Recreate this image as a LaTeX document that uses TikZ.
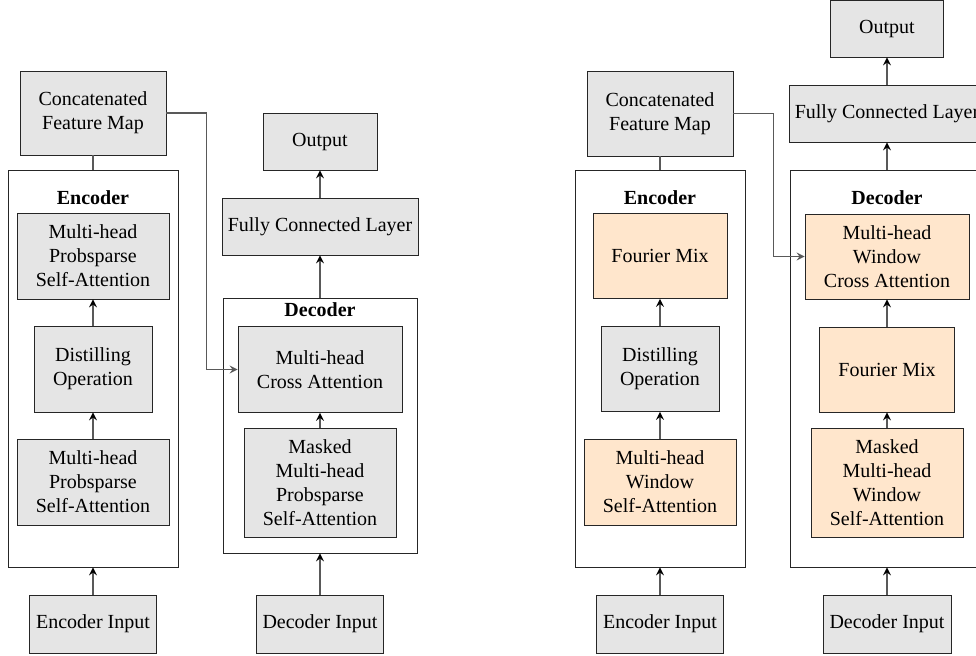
\documentclass[tikz,border=0pt]{standalone}
\usepackage{fontspec}
\setmainfont{Liberation Serif}
\usepackage{tikz}
\usepackage{xcolor}
\definecolor{boxgray}{gray}{0.9}
\definecolor{mixorange}{RGB}{255,230,204}
\definecolor{linegray}{gray}{0.35}
\tikzstyle{block} = [rectangle, draw=black!85, fill=boxgray, align=center, inner sep=0pt, font=\fontsize{10}{12}\selectfont]
\tikzstyle{newblock} = [block, fill=mixorange]
\tikzstyle{frame} = [rectangle, draw=black!85, inner sep=0pt]
\tikzstyle{title} = [font=\fontsize{10}{12}\selectfont\bfseries]
\tikzstyle{line} = [draw=linegray, line width=0.75pt]

\begin{document}
\begin{tikzpicture}[x=0.5pt,y=-0.5pt,->,>=stealth,node distance=56.5pt]
  \useasboundingbox (0,0) rectangle (976,655);
  \clip (0,0) rectangle (976,655);

  % Informer
  \node[frame, minimum width=85pt, minimum height=198.5pt] (Enc) at (93,368.5) {};
  \node[title] (Enc_title) at (93,198) {Encoder};
  \node[block, minimum width=76pt, minimum height=43pt] (Enc_self_b) at (93,482) {Multi-head\\Probsparse\\Self-Attention};
  \node[block, minimum width=59pt, minimum height=43pt] (Enc_distil) [above of=Enc_self_b] {Distilling\\Operation};
  \node[block, minimum width=76pt, minimum height=43pt] (Enc_self_a) [above of=Enc_distil] {Multi-head\\Probsparse\\Self-Attention};
  \node[block, minimum width=63.5pt, minimum height=29pt] (Enc_in) at (93,624) {Encoder Input};
  \node[block, minimum width=73pt, minimum height=42pt] (Concat) at (93,113) {Concatenated\\Feature Map};

  \node[frame, minimum width=97pt, minimum height=127.5pt] (Dec) at (320,425.5) {};
  \node[title] (Dec_title) at (320,310) {Decoder};
  \node[block, minimum width=76pt, minimum height=54.5pt] (Dec_self) at (320,482.5) {Masked\\Multi-head\\Probsparse\\Self-Attention};
  \node[block, minimum width=82pt, minimum height=43pt] (Dec_cross) [above of=Dec_self] {Multi-head\\Cross Attention};
  \node[block, minimum width=98pt, minimum height=28.5pt] (FC) at (320,226.5) {Fully Connected Layer};
  \node[block, minimum width=57pt, minimum height=28.5pt] (Out) [above of=FC, node distance=42.5pt] {Output};
  \node[block, minimum width=63.5pt, minimum height=29pt] (Dec_in) at (320,624) {Decoder Input};

  \path[line] (Enc_in) edge (Enc);
  \path[line] (Enc_self_b) edge (Enc_distil);
  \path[line] (Enc_distil) edge (Enc_self_a);
  \path[line,-] (Concat) edge (Enc);
  \draw[line] (Concat.east) -- ++(40,0) |- (Dec_cross.west);
  \path[line] (Dec_in) edge (Dec);
  \path[line] (Dec_self) edge (Dec_cross);
  \path[line] (Dec) edge (FC);
  \path[line] (FC) edge (Out);

  % Fourier / window version
  \node[frame, minimum width=85pt, minimum height=198.5pt] (W_enc) at (660,368.5) {};
  \node[title] (W_enc_title) at (660,198) {Encoder};
  \node[newblock, minimum width=76pt, minimum height=43pt] (W_enc_self) at (660,482) {Multi-head\\Window\\Self-Attention};
  \node[block, minimum width=59pt, minimum height=42.5pt] (W_enc_distil) [above of=W_enc_self] {Distilling\\Operation};
  \node[newblock, minimum width=67pt, minimum height=42.5pt] (W_enc_mix) [above of=W_enc_distil] {Fourier Mix};
  \node[block, minimum width=63.5pt, minimum height=29pt] (W_enc_in) at (660,624) {Encoder Input};
  \node[block, minimum width=73pt, minimum height=42.5pt] (W_concat) at (660,113.5) {Concatenated\\Feature Map};

  \node[frame, minimum width=97pt, minimum height=198.5pt] (W_dec) at (887,368.5) {};
  \node[title] (W_dec_title) at (887,198) {Decoder};
  \node[newblock, minimum width=76pt, minimum height=54.5pt] (W_dec_self) at (887,482.5) {Masked\\Multi-head\\Window\\Self-Attention};
  \node[newblock, minimum width=67.5pt, minimum height=42.5pt] (W_dec_mix) [above of=W_dec_self] {Fourier Mix};
  \node[newblock, minimum width=82pt, minimum height=42.5pt] (W_dec_cross) [above of=W_dec_mix] {Multi-head\\Window\\Cross Attention};
  \node[block, minimum width=98pt, minimum height=28.5pt] (W_fc) at (887,113.5) {Fully Connected Layer};
  \node[block, minimum width=56.5pt, minimum height=28.5pt] (W_out) [above of=W_fc, node distance=42.5pt] {Output};
  \node[block, minimum width=64pt, minimum height=29pt] (W_dec_in) at (887,624) {Decoder Input};

  \path[line] (W_enc_in) edge (W_enc);
  \path[line] (W_enc_self) edge (W_enc_distil);
  \path[line] (W_enc_distil) edge (W_enc_mix);
  \path[line,-] (W_concat) edge (W_enc);
  \draw[line] (W_concat.east) -- ++(40,0) |- (W_dec_cross.west);
  \path[line] (W_dec_in) edge (W_dec);
  \path[line] (W_dec_self) edge (W_dec_mix);
  \path[line] (W_dec_mix) edge (W_dec_cross);
  \path[line] (W_dec) edge (W_fc);
  \path[line] (W_fc) edge (W_out);
\end{tikzpicture}
\end{document}
